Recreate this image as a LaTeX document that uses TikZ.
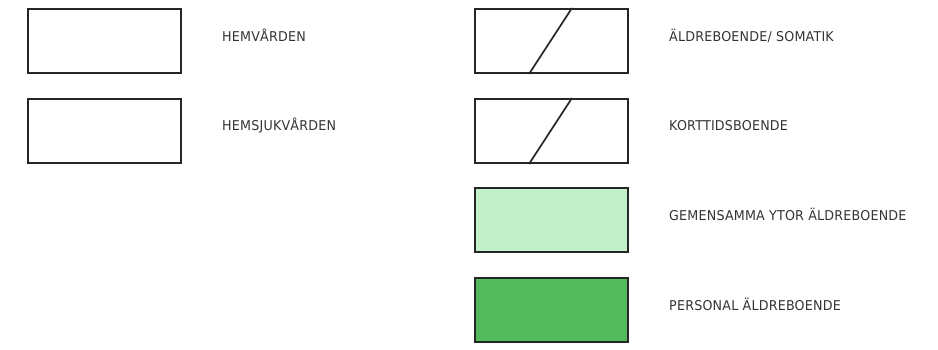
\documentclass[tikz,border=0pt]{standalone}
\usepackage{fontspec}
\setmainfont{DejaVu Sans}[FakeStretch=0.94,LetterSpace=1.5]
\usetikzlibrary{calc}
\definecolor{lightgr}{RGB}{195,240,200}
\definecolor{darkgr}{RGB}{82,185,92}
\begin{document}
\begin{tikzpicture}[x=1pt,y=-1pt,
  legbox/.style={draw=black!85,line width=2pt,minimum width=153pt,minimum height=64pt,inner sep=0pt,anchor=north west},
  legtext/.style={anchor=base west,inner sep=0pt,font=\fontsize{13.5}{15}\selectfont,text=black!80},
  slash/.style={draw=black!85,line width=1.7pt}]
\useasboundingbox (0,0) rectangle (938,350);
\node[legbox] (b1) at (27,8) {};
\node[legbox] (b2) at (27,98) {};
\node[legbox] (b3) at (474,8) {};
\node[legbox] (b4) at (474,98) {};
\node[legbox,fill=lightgr] (b5) at (474,187) {};
\node[legbox,fill=darkgr] (b6) at (474,277) {};
\draw[slash] ($(b3.south west)+(55,0)$) -- ($(b3.north west)+(98,0)$);
\draw[slash] ($(b4.south west)+(55,0)$) -- ($(b4.north west)+(98,0)$);
\node[legtext] (t1) at (222,42) {HEMVÅRDEN};
\node[legtext] (t2) at (222,131) {HEMSJUKVÅRDEN};
\node[legtext] (t3) at (669,42) {ÄLDREBOENDE/ SOMATIK};
\node[legtext] (t4) at (669,131) {KORTTIDSBOENDE};
\node[legtext] (t5) at (669,221) {GEMENSAMMA YTOR ÄLDREBOENDE};
\node[legtext] (t6) at (669,310) {PERSONAL ÄLDREBOENDE};
\end{tikzpicture}
\end{document}
